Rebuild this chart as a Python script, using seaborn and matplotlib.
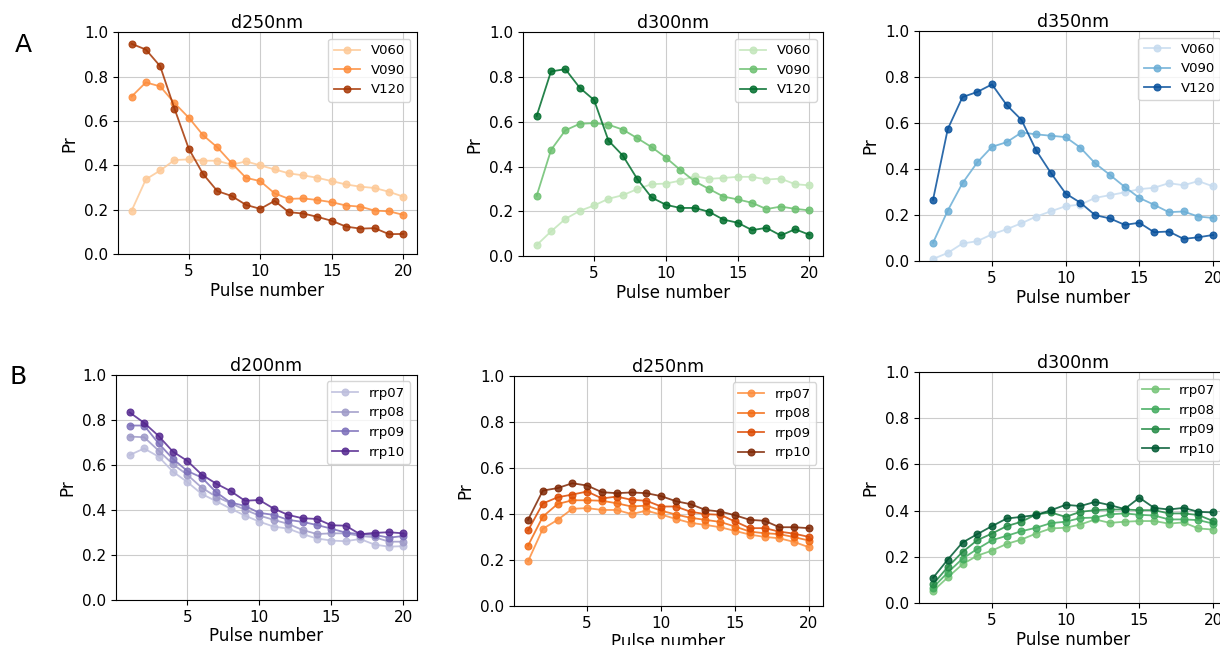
import numpy as np
import pandas as pd
import matplotlib
matplotlib.use("Agg")
import matplotlib.pyplot as plt
import seaborn as sns

pulses = list(range(1, 21))

# Panel A: d250nm (Oranges)
a250_V060 = [0.195, 0.337, 0.377, 0.424, 0.427, 0.421, 0.421, 0.403, 0.418, 0.400,
             0.382, 0.364, 0.355, 0.344, 0.329, 0.314, 0.304, 0.298, 0.281, 0.259]
a250_V090 = [0.710, 0.774, 0.756, 0.681, 0.615, 0.536, 0.481, 0.410, 0.344, 0.329,
             0.274, 0.249, 0.251, 0.244, 0.234, 0.219, 0.214, 0.196, 0.193, 0.177]
a250_V120 = [0.948, 0.922, 0.847, 0.656, 0.475, 0.361, 0.284, 0.262, 0.222, 0.204,
             0.240, 0.189, 0.183, 0.168, 0.150, 0.124, 0.115, 0.117, 0.090, 0.091]

# Panel A: d300nm (Greens)
a300_V060 = [0.049, 0.110, 0.166, 0.202, 0.226, 0.256, 0.272, 0.299, 0.321, 0.324,
             0.337, 0.357, 0.345, 0.349, 0.354, 0.354, 0.342, 0.346, 0.321, 0.316]
a300_V090 = [0.269, 0.474, 0.562, 0.591, 0.594, 0.587, 0.565, 0.527, 0.487, 0.440,
             0.385, 0.334, 0.300, 0.266, 0.253, 0.238, 0.210, 0.221, 0.211, 0.204]
a300_V120 = [0.626, 0.825, 0.835, 0.752, 0.697, 0.516, 0.449, 0.345, 0.262, 0.229,
             0.215, 0.215, 0.198, 0.163, 0.149, 0.116, 0.126, 0.092, 0.120, 0.095]

# Panel A: d350nm (Blues)
a350_V060 = [0.010, 0.036, 0.077, 0.087, 0.117, 0.139, 0.165, 0.194, 0.217, 0.239,
             0.246, 0.275, 0.287, 0.299, 0.313, 0.319, 0.339, 0.330, 0.348, 0.325]
a350_V090 = [0.080, 0.220, 0.339, 0.429, 0.497, 0.517, 0.559, 0.551, 0.545, 0.539,
             0.493, 0.425, 0.375, 0.323, 0.275, 0.245, 0.213, 0.216, 0.194, 0.188]
a350_V120 = [0.267, 0.574, 0.713, 0.735, 0.768, 0.678, 0.614, 0.481, 0.383, 0.294,
             0.254, 0.200, 0.186, 0.158, 0.167, 0.126, 0.129, 0.097, 0.104, 0.114]

# Panel B: d200nm (Purples)
b200_rrp07 = [0.644, 0.673, 0.637, 0.570, 0.524, 0.471, 0.439, 0.406, 0.375, 0.348,
              0.326, 0.317, 0.293, 0.273, 0.264, 0.261, 0.271, 0.246, 0.237, 0.239]
b200_rrp08 = [0.726, 0.723, 0.664, 0.603, 0.556, 0.499, 0.459, 0.430, 0.401, 0.375,
              0.356, 0.338, 0.311, 0.293, 0.296, 0.296, 0.284, 0.279, 0.259, 0.259]
b200_rrp09 = [0.775, 0.775, 0.696, 0.627, 0.573, 0.544, 0.479, 0.433, 0.418, 0.387,
              0.378, 0.356, 0.347, 0.333, 0.317, 0.299, 0.293, 0.289, 0.277, 0.284]
b200_rrp10 = [0.833, 0.787, 0.729, 0.659, 0.618, 0.557, 0.517, 0.484, 0.441, 0.444,
              0.406, 0.378, 0.363, 0.360, 0.332, 0.330, 0.292, 0.298, 0.301, 0.296]

# Panel B: d250nm (Oranges)
b250_rrp07 = [0.194, 0.335, 0.374, 0.422, 0.425, 0.417, 0.417, 0.399, 0.414, 0.397,
              0.378, 0.361, 0.352, 0.342, 0.326, 0.310, 0.300, 0.294, 0.278, 0.255]
b250_rrp08 = [0.262, 0.388, 0.443, 0.459, 0.459, 0.457, 0.446, 0.432, 0.436, 0.414,
              0.397, 0.383, 0.374, 0.365, 0.345, 0.323, 0.316, 0.312, 0.299, 0.284]
b250_rrp09 = [0.328, 0.445, 0.472, 0.484, 0.497, 0.467, 0.475, 0.461, 0.457, 0.432,
              0.432, 0.409, 0.399, 0.396, 0.367, 0.338, 0.338, 0.323, 0.314, 0.300]
b250_rrp10 = [0.374, 0.501, 0.512, 0.533, 0.523, 0.494, 0.490, 0.493, 0.490, 0.477,
              0.455, 0.442, 0.417, 0.410, 0.394, 0.374, 0.370, 0.342, 0.342, 0.338]

# Panel B: d300nm (Greens)
b300_rrp07 = [0.052, 0.111, 0.168, 0.205, 0.227, 0.256, 0.275, 0.301, 0.323, 0.326,
              0.340, 0.362, 0.347, 0.352, 0.355, 0.355, 0.344, 0.349, 0.323, 0.318]
b300_rrp08 = [0.067, 0.132, 0.192, 0.234, 0.272, 0.291, 0.311, 0.326, 0.346, 0.352,
              0.368, 0.370, 0.384, 0.388, 0.382, 0.379, 0.362, 0.362, 0.359, 0.344]
b300_rrp09 = [0.081, 0.156, 0.221, 0.272, 0.301, 0.333, 0.352, 0.384, 0.392, 0.373,
              0.395, 0.402, 0.405, 0.405, 0.402, 0.402, 0.388, 0.388, 0.381, 0.355]
b300_rrp10 = [0.109, 0.188, 0.262, 0.298, 0.333, 0.366, 0.373, 0.381, 0.402, 0.425,
              0.420, 0.438, 0.424, 0.407, 0.456, 0.412, 0.405, 0.412, 0.395, 0.392]

v_labels = ["V060", "V090", "V120"]
rrp_labels = ["rrp07", "rrp08", "rrp09", "rrp10"]

panels = [
    dict(title="d250nm", labels=v_labels, series=[a250_V060, a250_V090, a250_V120],
         colors=["#fdc997", "#fd8d3c", "#a63603"], rect=[0.0967, 0.606, 0.245, 0.344]),
    dict(title="d300nm", labels=v_labels, series=[a300_V060, a300_V090, a300_V120],
         colors=["#c2e6ba", "#6cc070", "#006d2c"], rect=[0.4287, 0.603, 0.246, 0.347]),
    dict(title="d350nm", labels=v_labels, series=[a350_V060, a350_V090, a350_V120],
         colors=["#c6dbef", "#6baed6", "#08519c"], rect=[0.7533, 0.595, 0.2525, 0.357]),
    dict(title="d200nm", labels=rrp_labels, series=[b200_rrp07, b200_rrp08, b200_rrp09, b200_rrp10],
         colors=["#bcbddc", "#9e9ac8", "#7c6fba", "#54278f"], rect=[0.0951, 0.0698, 0.2467, 0.349]),
    dict(title="d250nm", labels=rrp_labels, series=[b250_rrp07, b250_rrp08, b250_rrp09, b250_rrp10],
         colors=["#fd8d3c", "#f36b13", "#dc4a02", "#7f2704"], rect=[0.4213, 0.0605, 0.2533, 0.357]),
    dict(title="d300nm", labels=rrp_labels, series=[b300_rrp07, b300_rrp08, b300_rrp09, b300_rrp10],
         colors=["#74c476", "#41ab5d", "#238b45", "#005a32"], rect=[0.7533, 0.0651, 0.2525, 0.358]),
]

fig = plt.figure(figsize=(12.2, 6.45), dpi=100)

for p in panels:
    ax = fig.add_axes(p["rect"])
    for name, vals, col in zip(p["labels"], p["series"], p["colors"]):
        df = pd.DataFrame({"Pulse number": pulses, "Pr": vals})
        sns.lineplot(data=df, x="Pulse number", y="Pr", ax=ax, color=col,
                     marker="o", markersize=5, markeredgecolor=col,
                     markeredgewidth=0.8, linewidth=1.3, alpha=0.85, label=name)
    ax.set_ylim(0, 1.0)
    ax.set_xlim(0.05, 20.95)
    ax.set_xticks([5, 10, 15, 20])
    ax.set_yticks([0.0, 0.2, 0.4, 0.6, 0.8, 1.0])
    ax.grid(True, color="#cccccc", linewidth=0.8)
    ax.set_axisbelow(True)
    ax.tick_params(labelsize=11)
    ax.set_xlabel("Pulse number", fontsize=12, labelpad=2)
    ax.set_ylabel("Pr", fontsize=12)
    ax.set_title(p["title"], fontsize=12.5, pad=3)
    ax.legend(loc="upper right", fontsize=9.5)

fig.text(0.012, 0.93, "A", fontsize=18, va="center", ha="left")
fig.text(0.008, 0.415, "B", fontsize=18, va="center", ha="left")

fig.savefig("out.png", dpi=100)
